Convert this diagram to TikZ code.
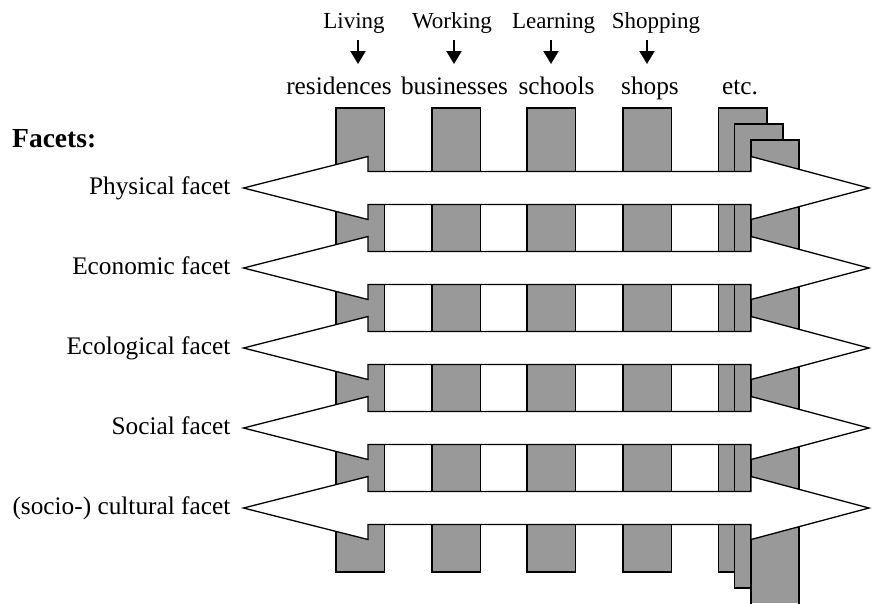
\documentclass[tikz,border=0pt]{standalone}
\usepackage{fontspec}
\setmainfont{Liberation Serif}
\usetikzlibrary{arrows.meta}
\definecolor{barfill}{RGB}{153,153,153}
\begin{document}
\begin{tikzpicture}[x=1pt,y=-1pt,
  bar/.style={fill=barfill,draw=black,line width=1.3pt},
  facetarrow/.style={fill=white,draw=black,line width=1.3pt,line join=miter},
  word/.style={inner sep=0pt,anchor=base,font=\fontsize{25.3}{30}\selectfont},
  activity/.style={inner sep=0pt,anchor=base,font=\fontsize{23}{28}\selectfont},
  facetlabel/.style={inner sep=0pt,anchor=base east,font=\fontsize{25.3}{30}\selectfont},
  downarrow/.style={line width=2pt,-{Triangle[width=15pt,length=13pt]}}]
\useasboundingbox (0,0) rectangle (872,603);

% activities and the places that serve them
\node[activity] (living)   at (354,28) {Living};
\node[activity] (working)  at (452,28) {Working};
\node[activity] (learning) at (553.5,28) {Learning};
\node[activity] (shopping) at (656,28) {Shopping};

\node[word] (residences) at (339,94) {residences};
\node[word] (businesses) at (454.5,94) {businesses};
\node[word] (schools)    at (556.5,94) {schools};
\node[word] (shops)      at (650,94) {shops};
\node[word] (etc)        at (740,94) {etc.};

\foreach \n/\x in {liv/358,wor/454,lea/551,sho/647}{
  \coordinate (\n-a) at (\x,40);
  \coordinate (\n-b) at (\x,64);
  \draw[downarrow] (\n-a) -- (\n-b);
}

% place columns
\foreach \x in {336,432,527,623,718.5}{
  \filldraw[bar] (\x,108) rectangle ++(48.5,464);
}
\filldraw[bar] (734.5,124) rectangle (783,588);
\fill[barfill] (751,140) rectangle (799,603);
\draw[line width=1.3pt] (751,605) -- (751,140) -- (799,140) -- (799,605);

% facet arrows across all columns
\foreach \y in {188,268,348,428,508}{
  \filldraw[facetarrow] (243.5,\y) -- (368,\y-31.5) -- (368,\y-16.5)
    -- (751,\y-16.5) -- (751,\y-31.5) -- (869,\y) -- (751,\y+31.5)
    -- (751,\y+16.5) -- (368,\y+16.5) -- (368,\y+31.5) -- cycle;
}

\node[inner sep=0pt,anchor=base west,font=\fontsize{27.5}{32}\selectfont\bfseries]
  (facets) at (12,147) {Facets:};
\node[facetlabel] (physical)   at (230.5,194.5) {Physical facet};
\node[facetlabel] (economic)   at (230.5,274.5) {Economic facet};
\node[facetlabel] (ecological) at (230.5,354.5) {Ecological facet};
\node[facetlabel] (social)     at (230.5,434.5) {Social facet};
\node[facetlabel] (cultural)   at (230.5,514.5) {(socio-) cultural facet};
\end{tikzpicture}
\end{document}
